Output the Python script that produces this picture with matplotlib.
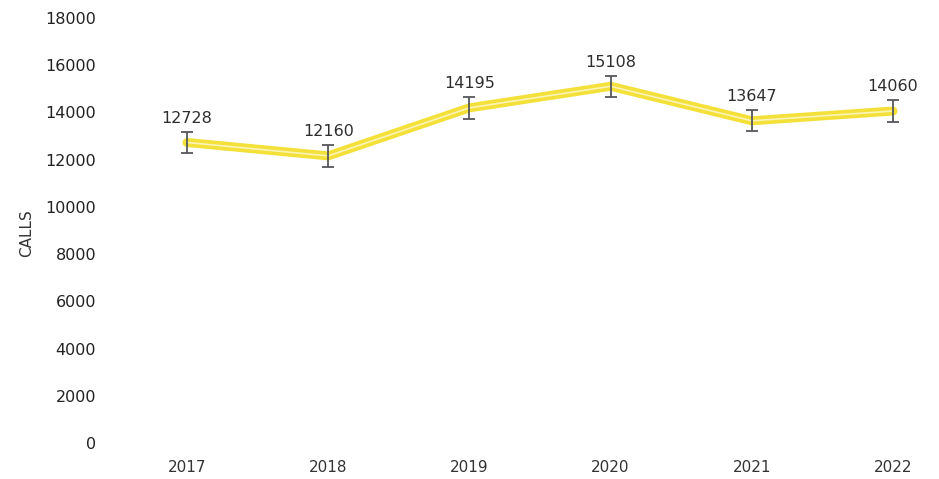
import matplotlib
matplotlib.use("Agg")
import matplotlib.pyplot as plt

years = ["2017", "2018", "2019", "2020", "2021", "2022"]
calls = [12728, 12160, 14195, 15108, 13647, 14060]
# error bar half-heights
errs = [450, 450, 460, 450, 450, 450]
y_ticks = [0, 2000, 4000, 6000, 8000, 10000, 12000, 14000, 16000, 18000]

W, H = 939, 479
fig = plt.figure(figsize=(W / 100, H / 100), dpi=100)

# axes placed in pixel terms: y=0 at 443px, y=18000 at 18px
ax_left, ax_right = 110, 935
ax = fig.add_axes([ax_left / W, (H - 443) / H, (ax_right - ax_left) / W, (443 - 18) / H])

xs = list(range(len(years)))
step = (893 - 187) / 5.0
ax.set_xlim(-(187 - ax_left) / step, 5 + (ax_right - 893) / step)
ax.set_ylim(0, 18000)

# yellow line with a pale stripe down the middle
ax.plot(xs, calls, color="#f3e13a", lw=6.5, solid_capstyle="round", solid_joinstyle="round", zorder=2)
ax.plot(xs, calls, color="#fbf3b8", lw=1.2, solid_joinstyle="round", zorder=3)

ax.errorbar(xs, calls, yerr=errs, fmt="none", ecolor="#55575c", elinewidth=1.3,
            capsize=4, capthick=1.3, zorder=4)

for x, v, e in zip(xs, calls, errs):
    ax.text(x, v + e + 250, str(v), ha="center", va="bottom", fontsize=11.5,
            color="#2e2e2e")

ax.set_xticks(xs)
ax.set_xticklabels(years, fontsize=11, color="#333333")
ax.set_yticks(y_ticks)
ax.set_yticklabels([str(t) for t in y_ticks], fontsize=11.5, color="#222222")
ax.tick_params(axis="both", length=0)
ax.tick_params(axis="y", pad=10)
ax.tick_params(axis="x", pad=12)

for s in ax.spines.values():
    s.set_visible(False)

fig.text(27 / W, 1 - 233 / H, "CALLS", rotation=90, ha="center", va="center",
         fontsize=11, color="#333333")

fig.savefig("out.png", dpi=100, facecolor="white")
